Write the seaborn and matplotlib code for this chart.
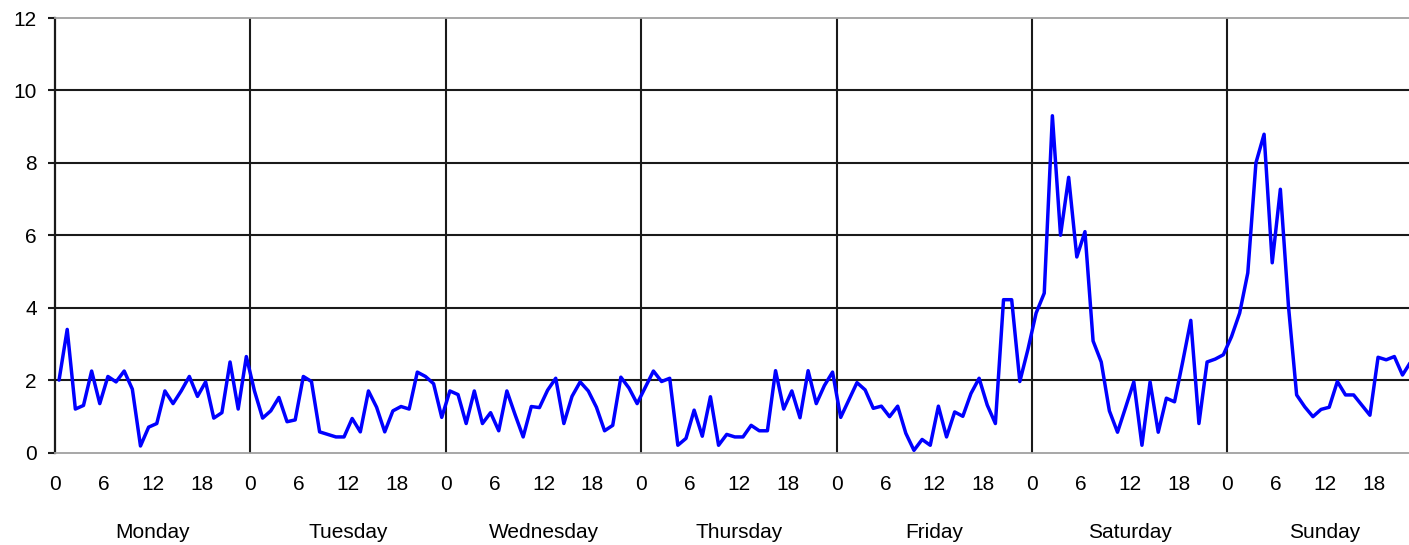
import numpy as np
import pandas as pd
import seaborn as sns
import matplotlib.pyplot as plt

days = ["Monday", "Tuesday", "Wednesday", "Thursday", "Friday", "Saturday", "Sunday"]
hour_labels = [0, 6, 12, 18]

# hourly values per day
monday = [2.0, 3.4, 1.2, 1.3, 2.25, 1.35, 2.1, 1.95, 2.25, 1.75, 0.18, 0.7,
          0.8, 1.7, 1.35, 1.7, 2.1, 1.55, 1.95, 0.95, 1.1, 2.5, 1.2, 2.65]
tuesday = [1.7, 0.95, 1.15, 1.52, 0.85, 0.9, 2.1, 1.96, 0.57, 0.5, 0.43, 0.43,
           0.94, 0.57, 1.7, 1.25, 0.57, 1.15, 1.27, 1.2, 2.22, 2.1, 1.9, 0.97]
wednesday = [1.7, 1.6, 0.8, 1.7, 0.8, 1.1, 0.6, 1.7, 1.05, 0.43, 1.27, 1.24,
             1.72, 2.05, 0.8, 1.55, 1.95, 1.7, 1.25, 0.6, 0.75, 2.08, 1.78, 1.35]
thursday = [1.8, 2.25, 1.96, 2.05, 0.2, 0.39, 1.17, 0.45, 1.54, 0.2, 0.5, 0.43,
            0.43, 0.75, 0.6, 0.6, 2.26, 1.2, 1.7, 0.96, 2.26, 1.35, 1.85, 2.22]
friday = [0.97, 1.45, 1.93, 1.73, 1.22, 1.28, 0.99, 1.28, 0.53, 0.06, 0.36, 0.2,
          1.28, 0.43, 1.12, 1.0, 1.63, 2.05, 1.31, 0.8, 4.22, 4.22, 1.96, 2.85]
saturday = [3.85, 4.4, 9.3, 6.0, 7.6, 5.4, 6.1, 3.08, 2.5, 1.15, 0.56, 1.25,
            1.95, 0.2, 1.95, 0.56, 1.5, 1.4, 2.5, 3.65, 0.8, 2.5, 2.58, 2.7]
sunday = [3.2, 3.85, 4.96, 8.0, 8.79, 5.24, 7.27, 4.03, 1.59, 1.26, 0.99, 1.19,
          1.25, 1.96, 1.59, 1.59, 1.31, 1.03, 2.63, 2.56, 2.65, 2.14, 2.5]

values = monday + tuesday + wednesday + thursday + friday + saturday + sunday
# each hourly value sits in the middle of its hour slot
df = pd.DataFrame({"hour": np.arange(len(values)) + 0.5, "value": values})

sns.set_style("white")
plt.rcParams['font.family'] = ['Liberation Sans', 'DejaVu Sans']

fig = plt.figure(figsize=(14.09, 5.45), dpi=100)
ax = fig.add_axes([0.03903, 0.16972, 0.96097, 0.79725])

grid_kw = dict(color='#1a1a1a', lw=1.5, zorder=1)
for d in range(1, len(days)):
    ax.axvline(d * 24, **grid_kw)
for y in range(2, 12, 2):
    ax.axhline(y, **grid_kw)

sns.lineplot(data=df, x="hour", y="value", color='#0000ff', lw=2.5, ax=ax, zorder=3)

ax.set_xlim(0, 166.3)
ax.set_ylim(0, 12)
ax.set_yticks(range(0, 13, 2))

xt = [d * 24 + h for d in range(len(days)) for h in hour_labels]
ax.set_xticks(xt)
ax.set_xticklabels([str(h) for d in range(len(days)) for h in hour_labels])
ax.tick_params(axis='x', bottom=True, length=0, pad=16, labelsize=15, labelcolor='black')
ax.tick_params(axis='y', left=True, length=5, width=1.5, color='#1a1a1a', pad=8,
               labelsize=15, labelcolor='black')
ax.set_xlabel('')
ax.set_ylabel('')

ax.spines['right'].set_visible(False)
ax.spines['top'].set_color('#a0a0a0')
ax.spines['top'].set_linewidth(1.3)
ax.spines['bottom'].set_color('#a0a0a0')
ax.spines['bottom'].set_linewidth(1.3)
ax.spines['left'].set_color('#1a1a1a')
ax.spines['left'].set_linewidth(1.6)

for d, name in enumerate(days):
    ax.text(d * 24 + 12, -80 / 434.5, name, transform=ax.get_xaxis_transform(),
            ha='center', va='center', fontsize=15, color='black')

fig.savefig('out.png', dpi=100)
